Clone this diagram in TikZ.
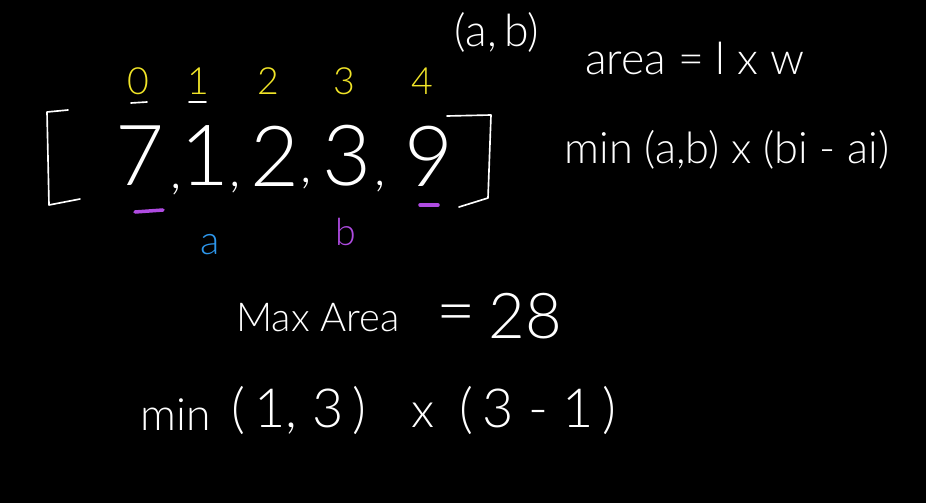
\documentclass[tikz,border=0pt]{standalone}
\usepackage{fontspec}
\setsansfont{Lato Light}
\usetikzlibrary{positioning}
\definecolor{chalkyellow}{RGB}{240,228,40}
\definecolor{chalkblue}{RGB}{45,150,235}
\definecolor{chalkpurple}{RGB}{175,75,225}
\newcommand{\fsz}[1]{\sffamily\fontsize{#1}{#1}\selectfont}

\begin{document}
\begin{tikzpicture}[x=0.03cm, y=-0.03cm,
	chalk/.style={white, line width=1.4pt, line cap=round, line join=round},
	txt/.style={text=white, inner sep=0pt, font=\fsz{30}},
	num/.style={txt, font=\fsz{72}},
	idx/.style={txt, text=chalkyellow, font=\fsz{32}}]
	\fill[black] (0,0) rectangle (926,503);
	\useasboundingbox (0,0) rectangle (926,503);
	% array with its indices
	\foreach \i/\v/\x/\ix in {0/7/140/138, 1/1/205/198, 2/2/275/268, 3/3/347/344, 4/9/429/422}{
		\node[num] (v\i) at (\x,156) {\v};
		\node[idx] (i\i) at (\ix,81) {\i};
	}
	\foreach \c/\x/\y in {1/176/190, 2/235/188, 3/306/184, 4/380/187}{
		\node[txt, font=\fsz{44}] (c\c) at (\x,\y) {,};
	}
	\draw[chalk] (68,110) -- (47,112) -- (49,205) -- (80,199);
	\draw[chalk] (447,116) -- (491,115) -- (488,198) -- (459,207);
	\draw[chalk] (131,103) -- (147,102);
	\draw[chalk] (189,102) -- (206,102);
	\draw[chalkpurple, line width=3pt, line cap=round] (135,212) -- (163,210);
	\draw[chalkpurple, line width=3pt, line cap=round] (420,205) -- (438,205);
	\node[txt, text=chalkblue, font=\fsz{34}] (la) at (210,245) {a};
	\node[txt, text=chalkpurple, font=\fsz{32}] (lb) at (346,232) {b};
	% formulas on the right
	\node[txt, font=\fsz{38}] (ab) at (497,32) {(a,\,b)};
	\node[txt, font=\fsz{38}] (area) at (695,58) {area = l x w};
	\node[txt, font=\fsz{37}] (minab) at (727,150) {min (a,b) x (bi - ai)};
	% result
	\node[txt, font=\fsz{34}] (maxarea) at (318,318) {Max Area};
	\node[txt, font=\fsz{58}] (eq) at (456,320) {=};
	\node[txt, font=\fsz{54}] (res) at (525,316) {28};
	\node[txt, font=\fsz{38}] (mn) at (176,415) {min};
	\node[txt, font=\fsz{46}] (pair) at (299,411) {(\,1, 3\,)};
	\node[txt, font=\fsz{42}] (times) at (423,415) {x};
	\node[txt, font=\fsz{46}] (diff) at (538,411) {(\,3 - 1\,)};
\end{tikzpicture}
\end{document}
